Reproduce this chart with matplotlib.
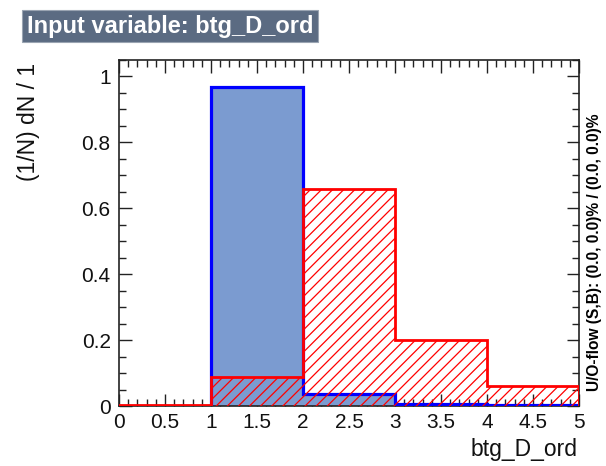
import matplotlib
matplotlib.use("Agg")
import matplotlib.pyplot as plt
import numpy as np
from matplotlib.ticker import MultipleLocator

plt.rcParams['font.family'] = ['Liberation Sans', 'DejaVu Sans']
plt.rcParams['hatch.linewidth'] = 0.9

bin_edges = [0, 1, 2, 3, 4, 5]
signal = [0.0, 0.968, 0.035, 0.005, 0.003]
background = [0.002, 0.088, 0.660, 0.200, 0.060]

title = "Input variable: btg_D_ord"
xlabel = "btg_D_ord"
ylabel = "(1/N) dN / 1"
oflow = "U/O-flow (S,B): (0.0, 0.0)% / (0.0, 0.0)%"

fig = plt.figure(figsize=(6.06, 4.66), dpi=100)
ax = fig.add_axes([119/606, 1-406/466, (579-119)/606, (406-60)/466])

ax.stairs(signal, bin_edges, fill=True, facecolor='#7b9bd0', edgecolor='none', zorder=2)
ax.stairs(signal, bin_edges, color='#0000ff', linewidth=2.3, zorder=3)
ax.stairs(background, bin_edges, fill=True, facecolor='none', edgecolor='#ff0000',
          hatch='///', linewidth=0, zorder=4)
ax.stairs(background, bin_edges, color='#ff0000', linewidth=2.0, zorder=5)

ax.set_xlim(0, 5)
ax.set_ylim(0, 1.05)
ax.xaxis.set_minor_locator(MultipleLocator(0.1))
ax.yaxis.set_minor_locator(MultipleLocator(0.05))
ax.set_yticks([0, 0.2, 0.4, 0.6, 0.8, 1.0])
ax.set_yticklabels(['0', '0.2', '0.4', '0.6', '0.8', '1'])
ax.set_xticks([0, 0.5, 1, 1.5, 2, 2.5, 3, 3.5, 4, 4.5, 5])
ax.set_xticklabels(['0', '0.5', '1', '1.5', '2', '2.5', '3', '3.5', '4', '4.5', '5'])
ax.tick_params(which='both', direction='in', top=True, right=True, colors='#222222',
               labelcolor='#111111', labelsize=15, width=1.0)
ax.tick_params(which='major', length=9)
ax.tick_params(which='minor', length=5)
ax.tick_params(axis='x', pad=5)
ax.tick_params(axis='y', pad=6)
for s in ax.spines.values():
    s.set_linewidth(1.2)
    s.set_color('#222222')

fig.text(578/606, 1-456/466, xlabel, fontsize=16.5, ha='right', va='baseline',
         color='#111111')
fig.text(28/606, 1-63/466, ylabel, fontsize=16.5, rotation=90, ha='center', va='top',
         color='#111111')

fig.text(27/606, 1-26/466, title, fontsize=17, fontweight='bold', color='white',
         va='center', ha='left',
         bbox=dict(boxstyle='square,pad=0.2', facecolor='#5b6b82', edgecolor='#9aa4b2', linewidth=0.8))

fig.text(595/606, 1-252/466, oflow, fontsize=11.2, fontweight='bold', rotation=90,
         ha='center', va='center')

fig.savefig("out.png", dpi=100)
